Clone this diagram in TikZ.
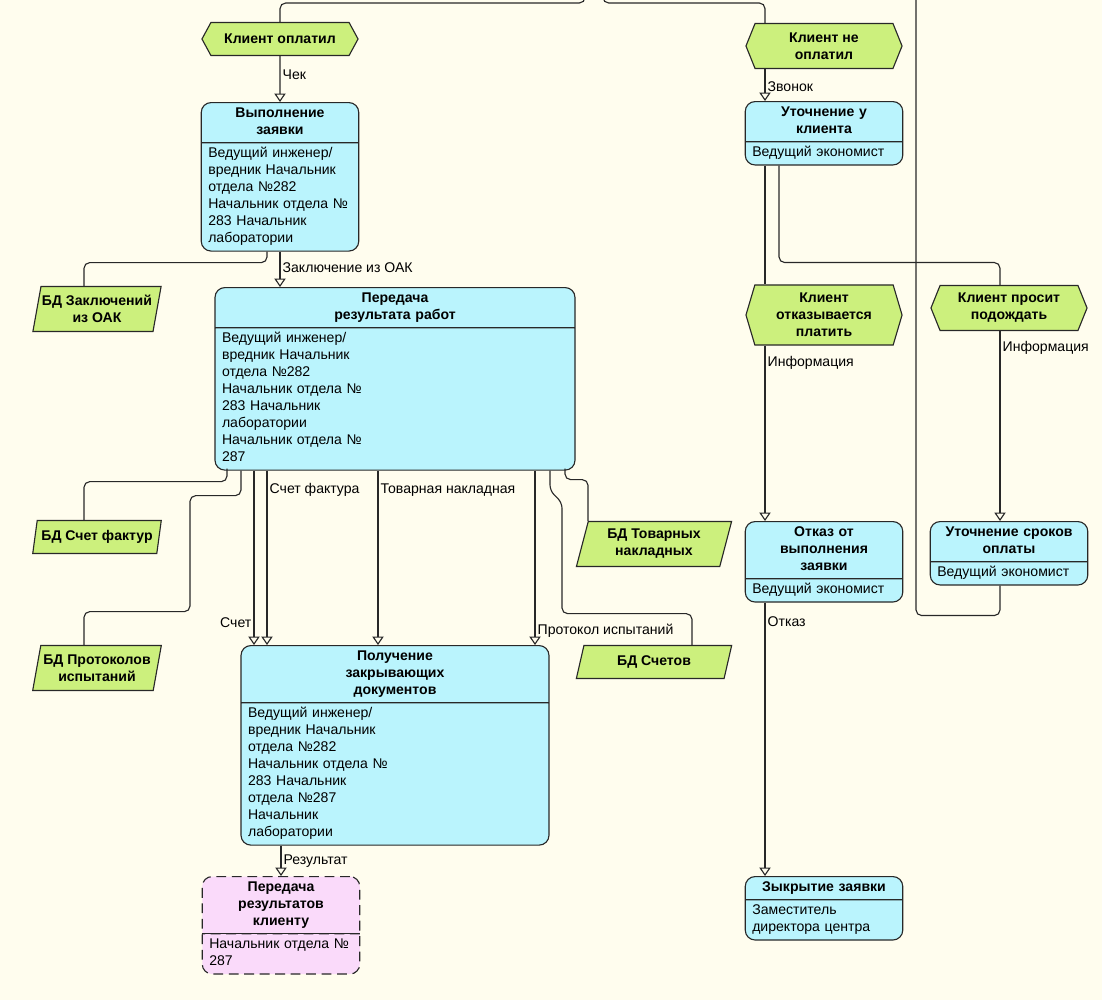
\documentclass[tikz,border=0pt]{standalone}
\usepackage{fontspec}
\setmainfont{Liberation Sans}
\usetikzlibrary{shapes.geometric, shapes.symbols, shapes.multipart, arrows.meta, calc}
\definecolor{bgcream}{RGB}{255,253,238}
\definecolor{funccyan}{RGB}{186,244,253}
\definecolor{evgreen}{RGB}{204,240,125}
\definecolor{respink}{RGB}{250,218,250}
\definecolor{linegray}{RGB}{40,40,40}
\newcommand{\hdr}[1]{\centering\bfseries\begin{tabular}[t]{@{}c@{}}#1\end{tabular}\par}
\tikzstyle{func} = [rectangle split, rectangle split parts=2, rounded corners=7pt, draw=linegray, line width=0.8pt, fill=funccyan, anchor=north, text width=102pt, inner xsep=5pt, inner ysep=1.8pt, align=left, font=\fontsize{10pt}{12.1pt}\selectfont]
\tikzstyle{event} = [signal, signal to=west and east, draw=linegray, line width=0.8pt, fill=evgreen, minimum width=111pt, align=center, inner sep=1pt, font=\bfseries\fontsize{10pt}{12.1pt}\selectfont]
\tikzstyle{data} = [trapezium, trapezium left angle=75, trapezium right angle=105, trapezium stretches=true, draw=linegray, line width=0.8pt, fill=evgreen, minimum width=92pt, align=center, inner sep=1pt, font=\bfseries\fontsize{10pt}{12.1pt}\selectfont]
\tikzstyle{line} = [draw=linegray, line width=0.8pt, rounded corners=4pt]
\tikzstyle{arrow} = [line, -{Triangle[open, width=8pt, length=6pt]}]
\tikzstyle{lbl} = [inner sep=1.5pt, font=\fontsize{10pt}{12.1pt}\selectfont]

\begin{document}
\begin{tikzpicture}[x=0.025cm, y=-0.025cm]
\useasboundingbox (0,0) rectangle (1102,1000);
\fill [bgcream] (0,0) rectangle (1102,1000);

\coordinate (inL) at (585,-10);
\coordinate (inR) at (603,-10);
\coordinate (outF) at (916,-10);

\node (evpaid) [event, minimum height=23.5pt, signal pointer angle=123] at (280,39) {Клиент оплатил};
\node (evnotpaid) [event, minimum height=32pt, signal pointer angle=136] at (824,46) {Клиент не\\оплатил};
\node (evrefuse) [event, minimum height=42.7pt, signal pointer angle=147] at (824,315) {Клиент\\отказывается\\платить};
\node (evwait) [event, minimum height=32pt, signal pointer angle=136] at (1009,308) {Клиент просит\\подождать};

\node (fexec) [func] at (280,102) {\hdr{Выполнение\\заявки}
  \nodepart{two}\strut Ведущий инженер/\\вредник Начальник\\отдела №282\\Начальник отдела №\\283 Начальник\\лаборатории\strut};
\node (fclar) [func] at (824,101) {\hdr{Уточнение у\\клиента}
  \nodepart{two}\strut Ведущий экономист\strut};
\node (ftransfer) [func, text width=246pt] at (395,287) {\hdr{Передача\\результата работ}
  \nodepart{two}\strut Ведущий инженер/\\вредник Начальник\\отдела №282\\Начальник отдела №\\283 Начальник\\лаборатории\\Начальник отдела №\\287\strut};
\node (frefusal) [func] at (824,521) {\hdr{Отказ от\\выполнения\\заявки}
  \nodepart{two}\strut Ведущий экономист\strut};
\node (fterms) [func] at (1009,521) {\hdr{Уточнение сроков\\оплаты}
  \nodepart{two}\strut Ведущий экономист\strut};
\node (fdocs) [func, text width=209pt] at (395,645) {\hdr{Получение\\закрывающих\\документов}
  \nodepart{two}\strut Ведущий инженер/\\вредник Начальник\\отдела №282\\Начальник отдела №\\283 Начальник\\отдела №287\\Начальник\\лаборатории\strut};
\node (fresult) [func, fill=respink, dash pattern=on 7pt off 4pt] at (281,876) {\hdr{Передача\\результатов\\клиенту}
  \nodepart{two}\strut Начальник отдела №\\287\strut};
\draw [linegray, line width=0.8pt] (fresult.text split west) -- (fresult.text split east);
\node (fclose) [func] at (824,876) {\hdr{Зыкрытие заявки}
  \nodepart{two}\strut Заместитель\\директора центра\strut};

\node (doak) [data, minimum height=32pt] at (97,309) {БД Заключений\\из ОАК};
\node (dinv) [data, minimum height=23.5pt] at (97,537) {БД Счет фактур};
\node (dprot) [data, minimum height=32pt] at (97,668) {БД Протоколов\\испытаний};
\node (dway) [data, minimum height=32pt, minimum width=111pt] at (654,544) {БД Товарных\\накладных};
\node (dbills) [data, minimum height=23.5pt, minimum width=111pt] at (654,662) {БД Счетов};

\draw [line] (inL) -- ++(0,13) -| (evpaid.north);
\draw [line] (inR) -- ++(0,13) -| ($(evnotpaid.north)+(-59,0)$);
\draw [arrow] (evpaid) -- node[lbl, right, pos=0.4] {Чек} (fexec);
\draw [arrow] ($(evnotpaid.south)+(-59,0)$) -- node[lbl, right, pos=0.55] {Звонок} ($(fclar.north)+(-59,0)$);
\draw [arrow] (fexec.south) -- node[lbl, right, pos=0.45] {Заключение из ОАК} (fexec.south |- ftransfer.north);
\draw [line] ($(fexec.south)+(-13,0)$) -- ++(0,11) -| ($(doak.north)+(-13,0)$);

\draw [line] ($(ftransfer.south)+(-168,-2)$) -- ++(0,13) -| ($(dinv.north)+(-13,0)$);
\draw [line] ($(ftransfer.south)+(-154,0)$) -- ++(0,25) -| ++(-51,116) -| ($(dprot.north)+(-13,0)$);
\draw [arrow] ($(ftransfer.south)+(-141,0)$) -- node[lbl, left, pos=0.87] {Счет} ($(fdocs.north)+(-141,0)$);
\draw [arrow] ($(ftransfer.south)+(-128,0)$) -- node[lbl, right, pos=0.11] {Счет фактура} ($(fdocs.north)+(-128,0)$);
\draw [arrow] ($(ftransfer.south)+(-17,0)$) -- node[lbl, right, pos=0.11] {Товарная накладная} ($(fdocs.north)+(-17,0)$);
\draw [arrow] ($(ftransfer.south)+(140,0)$) -- node[lbl, right, pos=0.92] {Протокол испытаний} ($(fdocs.north)+(140,0)$);
\draw [line] ($(ftransfer.south)+(155,0)$) -- ++(0,20) -- ++(12,12) -- ++(0,111) -| ($(dbills.north)+(38,0)$);
\draw [line] ($(ftransfer.south)+(170,-2)$) -- ++(0,11) -| ($(dway.north)+(-66,0)$);
\draw [arrow] (fresult.north |- fdocs.south) -- node[lbl, right] {Результат} (fresult.north);

\draw [line] ($(fclar.south)+(-59,0)$) -- ($(evrefuse.north)+(-59,0)$);
\draw [line] ($(fclar.south)+(-45,0)$) -- ++(0,97) -| ($(evwait.north)+(-9,0)$);
\draw [arrow] ($(evrefuse.south)+(-59,0)$) -- node[lbl, right, pos=0.1] {Информация} ($(frefusal.north)+(-59,0)$);
\draw [arrow] ($(evwait.south)+(-9,0)$) -- node[lbl, right, pos=0.09] {Информация} ($(fterms.north)+(-9,0)$);
\draw [arrow] ($(frefusal.south)+(-59,0)$) -- node[lbl, right, pos=0.07] {Отказ} ($(fclose.north)+(-59,0)$);
\draw [line] ($(fterms.south)+(-9,0)$) -- ++(0,30) -| (outF);
\end{tikzpicture}
\end{document}
